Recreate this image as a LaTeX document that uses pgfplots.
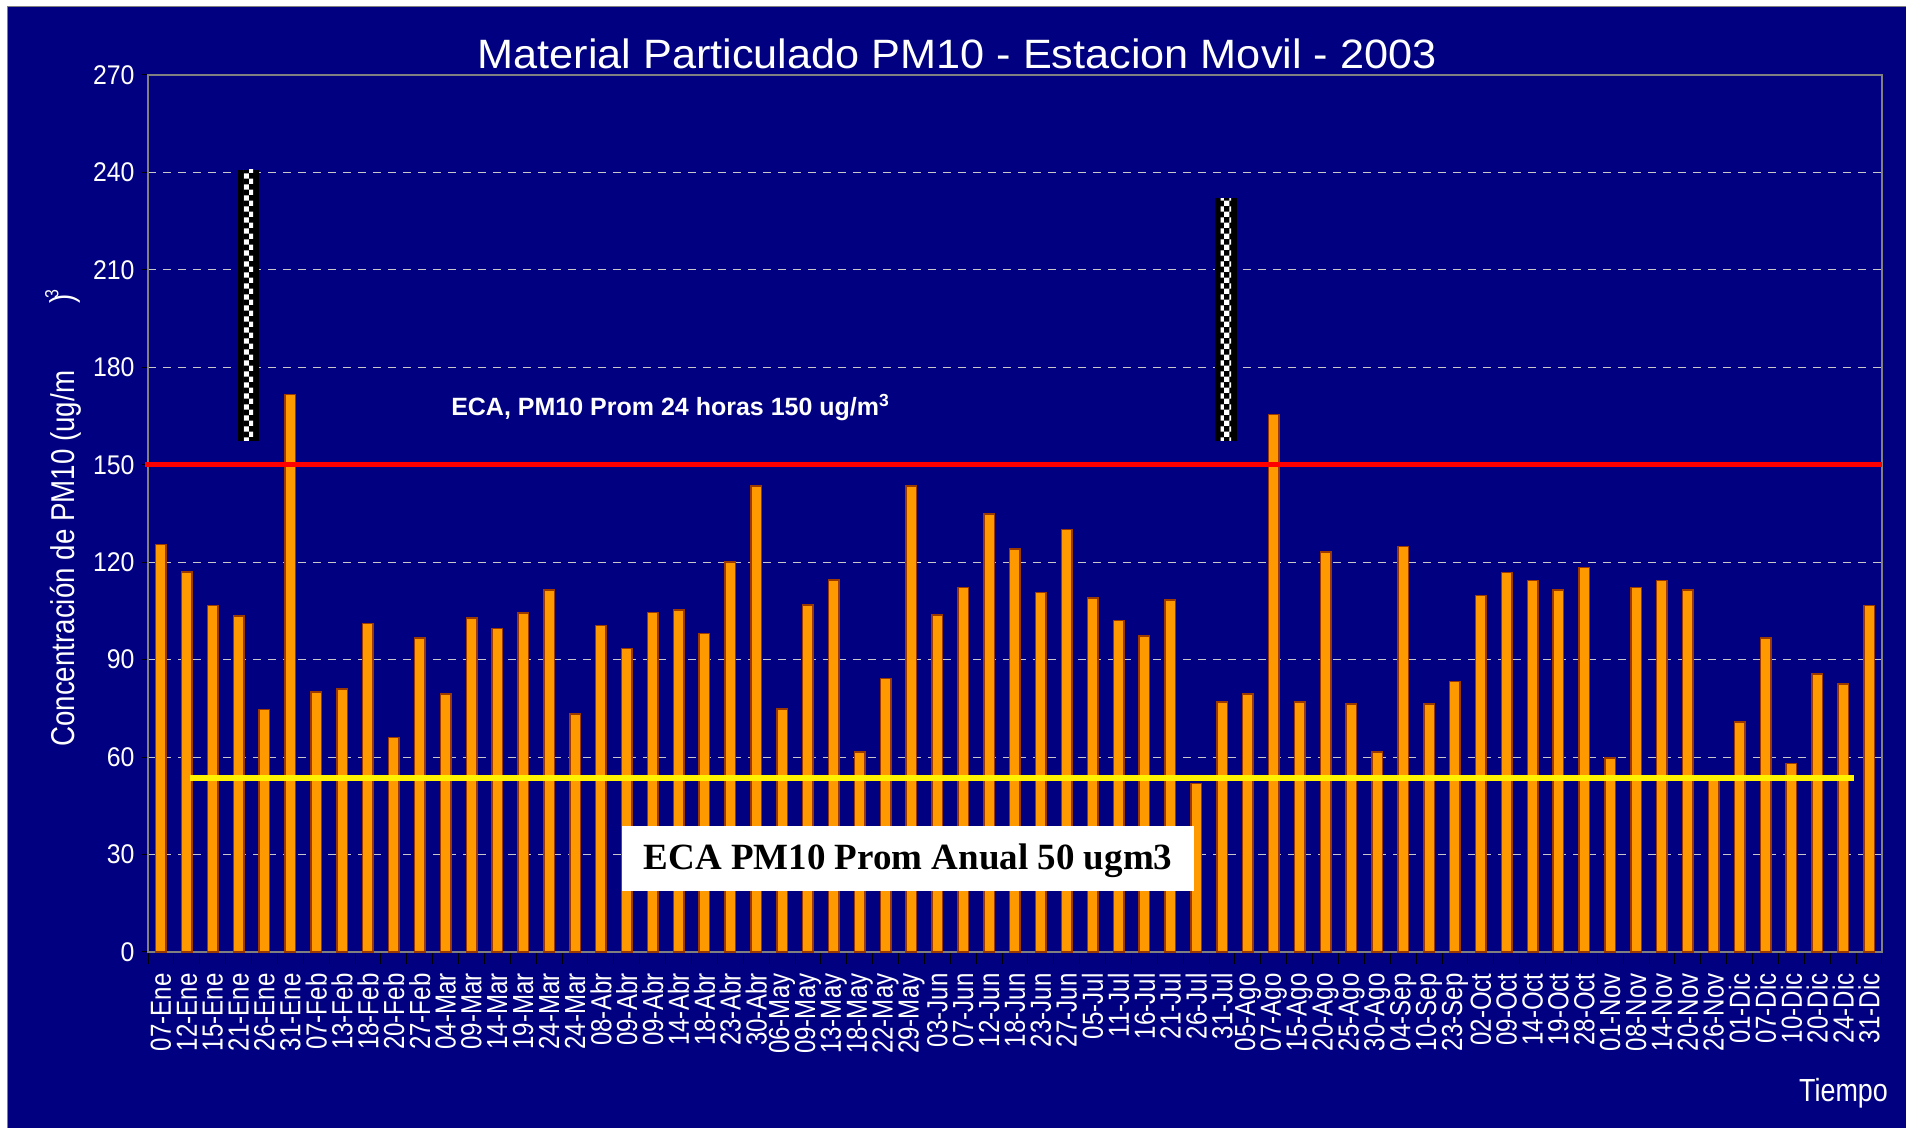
\documentclass[border=0pt]{standalone}
\usepackage{fontspec}
\usepackage{pgfplots}
\pgfplotsset{compat=1.18}
\usetikzlibrary{patterns}
\setmainfont{Liberation Sans}
\newfontfamily\fA[FakeStretch=0.83]{Liberation Sans}
\newfontfamily\fB[FakeStretch=0.92]{Liberation Sans}
\newfontfamily\fC[FakeStretch=0.84]{Liberation Sans}
\newfontfamily\fT[FakeStretch=1.055]{Liberation Sans}
\newfontfamily\fS{Liberation Serif}
\definecolor{navybg}{HTML}{000080}
\definecolor{barorange}{HTML}{FF9900}
\definecolor{baredge}{HTML}{9A3A00}
\definecolor{gridgray}{HTML}{C8C8C8}
\definecolor{axisgray}{HTML}{808080}
\begin{document}
\begin{tikzpicture}[x=1bp,y=1bp]
\useasboundingbox (0,0) rectangle (1906,1128);
\fill[white] (0,0) rectangle (1906,1128);
\fill[navybg] (7,0) rectangle (1906,1121);
\draw[axisgray, line width=1bp] (7,0) -- (7,1121) -- (1906,1121);
\begin{axis}[
  at={(148bp,176bp)}, anchor=south west,
  scale only axis, width=1734bp, height=877bp,
  xmin=-0.5, xmax=66.5, ymin=0, ymax=270,
  ytick={0,30,...,270},
  xtick={0,...,66},
  xticklabels={07-Ene,12-Ene,15-Ene,21-Ene,26-Ene,31-Ene,07-Feb,13-Feb,18-Feb,20-Feb,27-Feb,04-Mar,09-Mar,14-Mar,19-Mar,24-Mar,24-Mar,08-Abr,09-Abr,09-Abr,14-Abr,18-Abr,23-Abr,30-Abr,06-May,09-May,13-May,18-May,22-May,29-May,03-Jun,07-Jun,12-Jun,18-Jun,23-Jun,27-Jun,05-Jul,11-Jul,16-Jul,21-Jul,26-Jul,31-Jul,05-Ago,07-Ago,15-Ago,20-Ago,25-Ago,30-Ago,04-Sep,10-Sep,23-Sep,02-Oct,09-Oct,14-Oct,19-Oct,28-Oct,01-Nov,08-Nov,14-Nov,20-Nov,26-Nov,01-Dic,07-Dic,10-Dic,20-Dic,24-Dic,31-Dic},
  minor xtick={-0.5,0.5,...,66.5},
  xtick pos=lower, ytick pos=left, tick align=outside,
  major tick length=6bp, minor tick length=12bp,
  major x tick style={draw=none},
  minor x tick style={black, line width=1bp},
  y tick style={black, line width=1bp},
  ymajorgrids,
  grid style={gridgray, dash pattern=on 7.5bp off 7.5bp, line width=1.2bp},
  axis line style={axisgray, line width=2bp},
  /pgf/number format/assume math mode=true,
  yticklabel shift=4bp,
  xticklabel shift=12bp,
  yticklabel style={font=\fB\fontsize{27bp}{30bp}\selectfont, text=white},
  xticklabel style={rotate=90, anchor=east, font=\fA\fontsize{29bp}{32bp}\selectfont, text=white},
  clip=false,
]
\addplot[ybar, bar width=10.5bp, bar shift=0pt, fill=barorange, draw=baredge, line width=1.5bp] coordinates {
(0,125.5) (1,117) (2,106.7) (3,103.5) (4,74.7) (5,171.6) (6,80.1) (7,81) (8,101.2) (9,66.1)
(10,96.7) (11,79.4) (12,102.8) (13,99.6) (14,104.4) (15,111.4) (16,73.3) (17,100.5) (18,93.5) (19,104.5)
(20,105.3) (21,98.1) (22,120.1) (23,143.5) (24,74.8) (25,106.8) (26,114.6) (27,61.5) (28,84.2) (29,143.5)
(30,103.7) (31,112.2) (32,134.9) (33,124) (34,110.6) (35,130.1) (36,109) (37,102) (38,97.3) (39,108.3)
(40,51.9) (41,77) (42,79.4) (43,165.4) (44,77) (45,123.2) (46,76.3) (47,61.5) (48,124.8) (49,76.3)
(50,83.3) (51,109.7) (52,116.9) (53,114.4) (54,111.5) (55,118.3) (56,59.8) (57,112.2) (58,114.4) (59,111.5)
(60,53) (61,70.8) (62,96.6) (63,58.1) (64,85.6) (65,82.5) (66,106.7)
};
\addplot[red, line width=4.7bp] coordinates {(-0.62,150) (66.5,150)};
\addplot[yellow, line width=6bp] coordinates {(1.12,53.5) (65.42,53.5)};
% broken image artifacts
\fill[black] (axis cs:2.98,157.4) rectangle (axis cs:3.78,240.8);
\fill[pattern=checkerboard, pattern color=white] (axis cs:3.2,157.4) rectangle (axis cs:3.56,240.8);
\fill[black] (axis cs:40.73,157.4) rectangle (axis cs:41.58,232.1);
\fill[pattern=checkerboard, pattern color=white] (axis cs:40.95,157.4) rectangle (axis cs:41.35,232.1);
% annual box
\fill[white] (axis cs:17.82,18.87) rectangle (axis cs:39.92,38.79);
\node[anchor=base, font=\fS\bfseries\fontsize{37bp}{40bp}\selectfont, text=black, inner sep=0] at (axis cs:28.87,25.25) {ECA PM10 Prom Anual 50 ugm3};
\node[anchor=base west, font=\bfseries\fontsize{25bp}{28bp}\selectfont, text=white, inner sep=0] at (axis cs:11.21,165.1) {ECA, PM10 Prom 24 horas 150 ug/m\textsuperscript{3}};
% title
\node[anchor=base, font=\fT\fontsize{41bp}{46bp}\selectfont, text=white, inner sep=0] at (axis description cs:0.4666,1.0075) {Material Particulado PM10 - Estacion Movil - 2003};
% y label
\node[rotate=90, anchor=west, font=\fC\fontsize{33bp}{38bp}\selectfont, text=white, inner sep=0] at (axis description cs:-0.0477,0.2338) {Concentración de PM10 (ug/m};
\node[rotate=90, anchor=west, font=\fC\fontsize{33bp}{38bp}\selectfont, text=white, inner sep=0] at (axis description cs:-0.0477,0.7395) {)};
\node[rotate=90, anchor=west, font=\fC\fontsize{19bp}{22bp}\selectfont, text=white, inner sep=0] at (axis description cs:-0.0555,0.745) {3};
% x label
\node[anchor=base east, font=\fC\fontsize{32bp}{36bp}\selectfont, text=white, inner sep=0] at (axis description cs:1.0035,-0.1707) {Tiempo};
\end{axis}
\end{tikzpicture}
\end{document}
